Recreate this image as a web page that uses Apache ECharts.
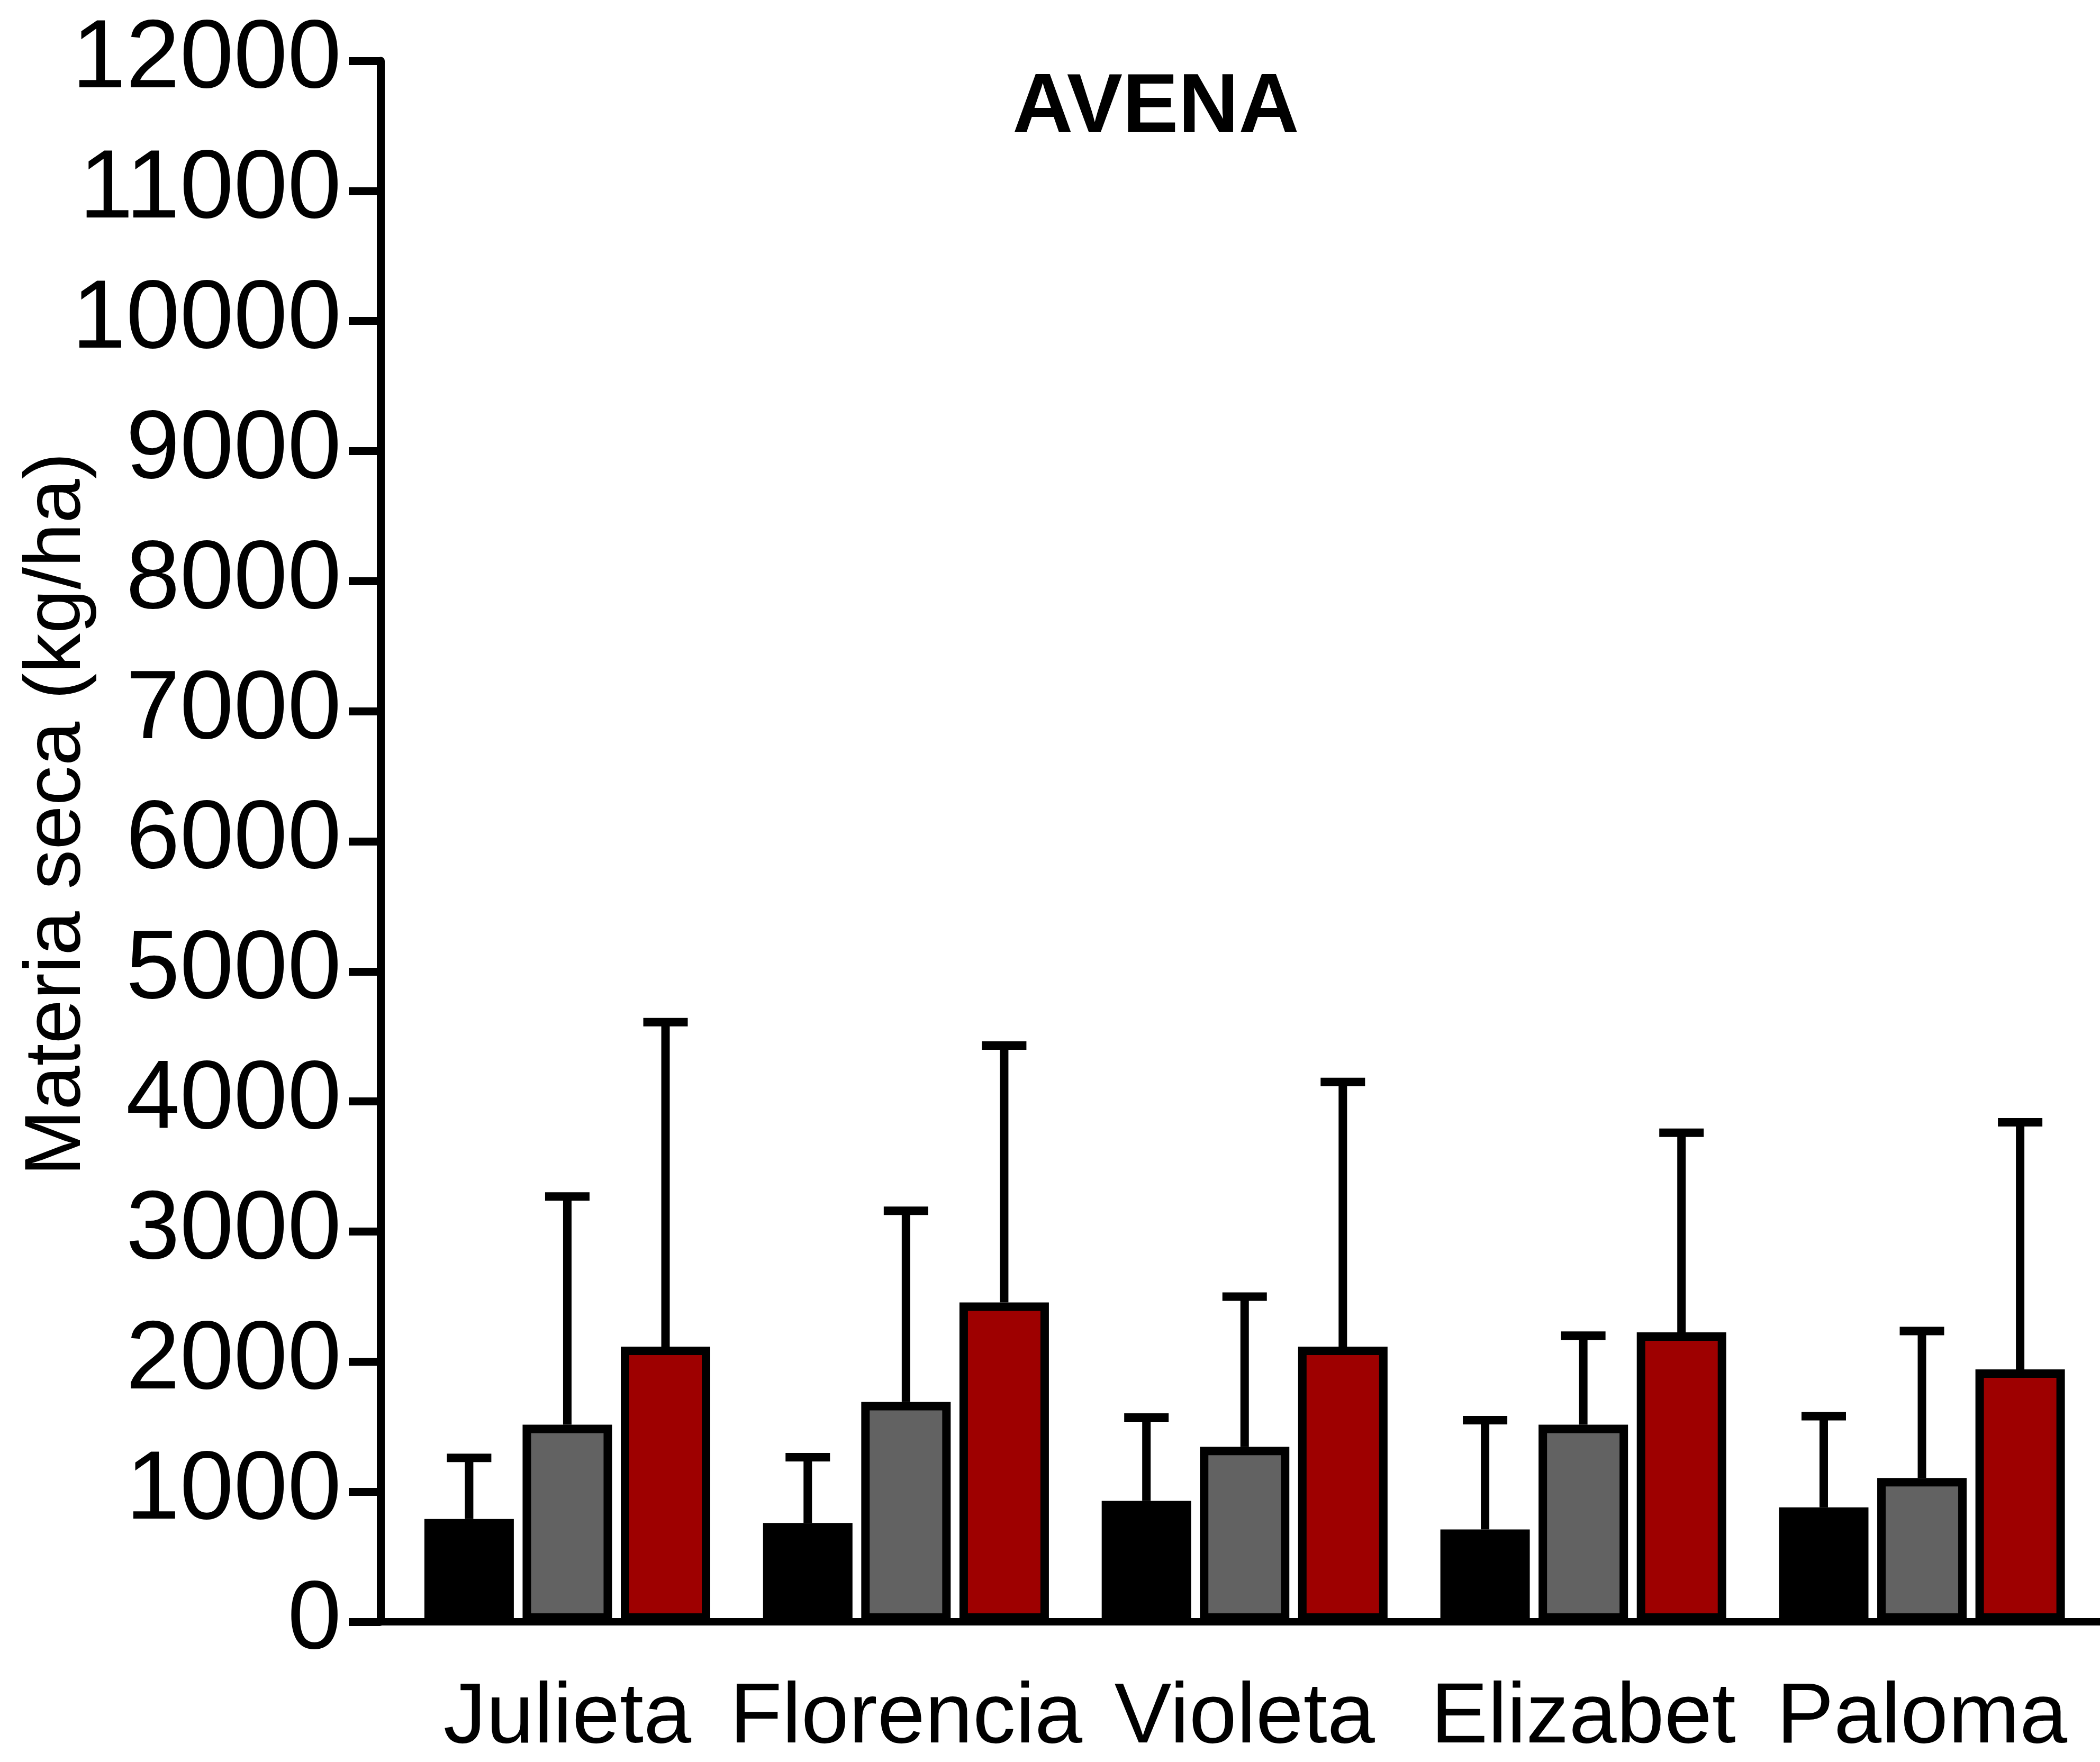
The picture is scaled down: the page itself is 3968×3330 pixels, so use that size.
<!DOCTYPE html>
<html>
<head>
<meta charset="utf-8">
<script src="https://cdn.jsdelivr.net/npm/echarts@6/dist/echarts.min.js"></script>
<style>
html,body{margin:0;padding:0;background:#fff;}
#chart{width:3968px;height:3330px;}
</style>
</head>
<body>
<div id="chart"></div>
<script>
// ---- data ----
const categories = ['Julieta', 'Florencia', 'Violeta', 'Elizabet', 'Paloma'];
const yTicks = [0, 1000, 2000, 3000, 4000, 5000, 6000, 7000, 8000, 9000, 10000, 11000, 12000];
const series1Mean = [790, 760, 930, 710, 880];
const series1Err  = [470, 505, 640, 840, 700];
const series2Mean = [1515, 1690, 1345, 1515, 1105];
const series2Err  = [1755, 1470, 1155, 685, 1130];
const series3Mean = [2115, 2455, 2115, 2225, 1940];
const series3Err  = [2495, 1975, 2035, 1535, 1900];
const titleText = 'AVENA';
const yName = 'Materia seca (kg/ha)';

// ---- style ----
const FONT = "'Liberation Sans', Arial, Helvetica, sans-serif";
const BAR_WIDTH = 169;
const BAR_GAP = 0.098;
const BAR_STEP = BAR_WIDTH * (1 + BAR_GAP);
const CAP_WIDTH = 84;
const LW = 16;
const colors = ['#000000', '#626262', '#9e0000'];

const means = [series1Mean, series2Mean, series3Mean];
const errs = [series1Err, series2Err, series3Err];

function errRenderer(k) {
  return function (params, api) {
    const cat = api.value(0), m = api.value(1), e = api.value(2);
    const p0 = api.coord([cat, m]);
    const p1 = api.coord([cat, m + e]);
    const x = p0[0] + (k - 1) * BAR_STEP;
    const h = CAP_WIDTH / 2;
    return {
      type: 'group',
      children: [
        { type: 'line', shape: { x1: x, y1: p0[1], x2: x, y2: p1[1] }, style: { stroke: '#000', lineWidth: LW } },
        { type: 'line', shape: { x1: x - h, y1: p1[1], x2: x + h, y2: p1[1] }, style: { stroke: '#000', lineWidth: LW } }
      ]
    };
  };
}

const series = [];
for (let k = 0; k < 3; k++) {
  series.push({
    type: 'bar',
    name: 'S' + (k + 1),
    xAxisIndex: 0, yAxisIndex: 0,
    barWidth: BAR_WIDTH,
    barGap: (BAR_GAP * 100) + '%',
    data: means[k],
    itemStyle: { color: colors[k], borderColor: '#000', borderWidth: LW },
    z: 2,
    silent: true
  });
}
for (let k = 0; k < 3; k++) {
  series.push({
    type: 'custom',
    xAxisIndex: 0, yAxisIndex: 0,
    renderItem: errRenderer(k),
    data: categories.map((c, i) => [i, means[k][i], errs[k][i]]),
    z: 3,
    silent: true
  });
}

const chart = echarts.init(document.getElementById('chart'), null, { renderer: 'canvas' });
chart.setOption({
  backgroundColor: '#ffffff',
  animation: false,
  title: {
    text: titleText,
    left: 2184,
    top: 126,
    padding: 0,
    textAlign: 'center',
    textStyle: { fontFamily: FONT, fontSize: 158, fontWeight: 'bold', color: '#000' }
  },
  graphic: [
    {
      type: 'text',
      x: 110, y: 1539,
      rotation: Math.PI / 2,
      style: {
        text: yName,
        fontFamily: FONT, fontSize: 150, fill: '#000',
        textAlign: 'center', textVerticalAlign: 'middle'
      },
      silent: true
    }
  ],
  grid: [
    { left: 752, right: 16.5, top: 115, bottom: 265, containLabel: false, outerBoundsMode: 'none' },
    { left: 719, right: 0, top: 115, bottom: 265, containLabel: false, outerBoundsMode: 'none' }
  ],
  xAxis: [
    {
      type: 'category', gridIndex: 0, data: categories,
      axisLine: { show: false }, axisTick: { show: false },
      axisLabel: { fontFamily: FONT, fontSize: 162, color: '#000', margin: 102, interval: 0 },
      splitLine: { show: false }
    },
    {
      type: 'value', gridIndex: 1, min: 0, max: 1, position: 'bottom',
      axisLine: { show: true, onZero: false, lineStyle: { color: '#000', width: 14 } },
      axisTick: { show: false }, axisLabel: { show: false }, splitLine: { show: false }
    }
  ],
  yAxis: [
    {
      type: 'value', gridIndex: 0, min: yTicks[0], max: yTicks[yTicks.length - 1], interval: 1000,
      show: false
    },
    {
      type: 'value', gridIndex: 1, min: yTicks[0], max: yTicks[yTicks.length - 1], interval: 1000,
      axisLine: { show: true, onZero: false, lineStyle: { color: '#000', width: 15 } },
      axisTick: { show: true, length: 60, lineStyle: { color: '#000', width: 15 } },
      axisLabel: { fontFamily: FONT, fontSize: 183, color: '#000', margin: 74, formatter: function (v) { return String(v); } },
      splitLine: { show: false }
    }
  ],
  series: series
});
</script>
</body>
</html>
